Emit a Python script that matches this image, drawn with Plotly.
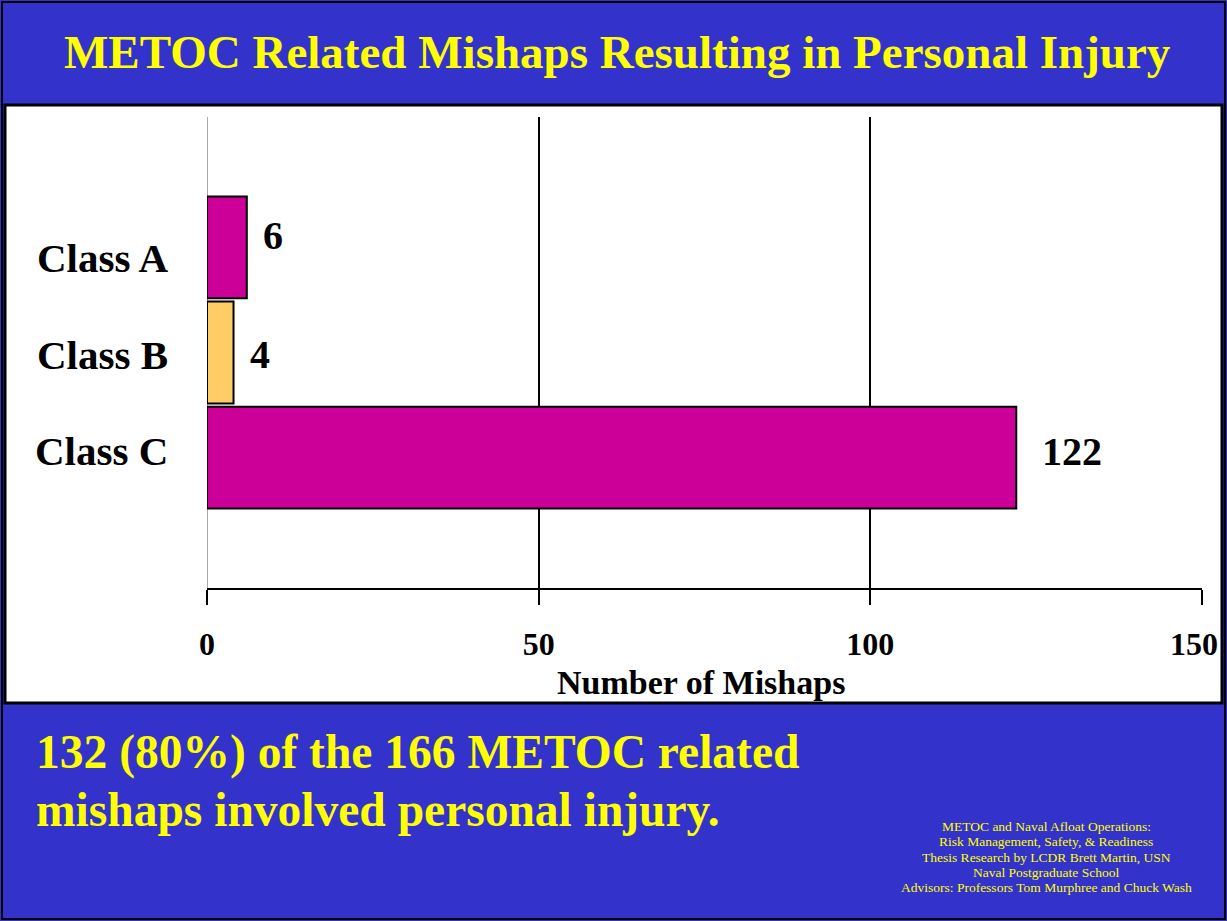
import plotly.graph_objects as go

# ---- data ----
categories = ["Class A", "Class B", "Class C"]
mishaps = [6, 4, 122]
bar_colors = ["#CC0099", "#FFCC66", "#CC0099"]
x_ticks = [0, 50, 100, 150]

title_text = "METOC Related Mishaps Resulting in Personal Injury"
summary_lines = ["132 (80%) of the 166 METOC related", "mishaps involved personal injury."]
credit_lines = [
    "METOC and Naval Afloat Operations:",
    "Risk Management, Safety, & Readiness",
    "Thesis Research by LCDR Brett Martin, USN",
    "Naval Postgraduate School",
    "Advisors: Professors Tom Murphree and Chuck Wash",
]

W, H = 1227, 921
PL, PR, PT, PB = 207, 1202, 117, 588  # plot area in pixels
BLUE = "#3333CC"
YELLOW = "#FFFF00"
SERIF = "Liberation Serif, Times New Roman, serif"
CAT_LABEL_SHIFT = [11, 2, -7]    # vertical nudges of category labels (px, down positive)
VAL_LABEL_SHIFT = [12, -2, 6]    # vertical nudges of value labels (px, up positive)


def px(x):
    return (x - PL) / (PR - PL)


def py(y):
    return (PB - y) / (PB - PT)


fig = go.Figure()
fig.add_trace(go.Bar(
    x=mishaps, y=categories, orientation="h",
    marker=dict(color=bar_colors, line=dict(color="black", width=2)),
    width=0.97, showlegend=False, hoverinfo="x+y",
))

# value labels beside bars, and category labels
for c, v, vs, cs in zip(categories, mishaps, VAL_LABEL_SHIFT, CAT_LABEL_SHIFT):
    fig.add_annotation(x=v, y=c, xref="x", yref="y", text=f"<b>{v}</b>",
                       showarrow=False, xanchor="left", xshift=14 if v < 50 else 24, yshift=vs,
                       font=dict(family=SERIF, size=40, color="black"))
    fig.add_annotation(x=px(170), y=c, xref="paper", yref="y", text=f"<b>{c}</b>",
                       showarrow=False, xanchor="right", yshift=-cs,
                       font=dict(family=SERIF, size=41, color="black"))

shapes = []
# outer slide border
shapes.append(dict(type="rect", xref="paper", yref="paper",
                   x0=px(2), x1=px(1225), y0=py(2), y1=py(919),
                   line=dict(color="black", width=2), layer="below"))
# white panel
shapes.append(dict(type="rect", xref="paper", yref="paper",
                   x0=px(5), x1=px(1222), y0=py(105), y1=py(703),
                   fillcolor="white", line=dict(color="black", width=3), layer="below"))
fig.update_layout(shapes=shapes)

annotations = []
annotations.append(dict(xref="paper", yref="paper", x=px(617), y=py(52),
                        text=f"<b>{title_text}</b>", showarrow=False,
                        xanchor="center", yanchor="middle",
                        font=dict(family=SERIF, size=47, color=YELLOW)))
annotations.append(dict(xref="paper", yref="paper", x=px(701), y=py(682),
                        text="<b>Number of Mishaps</b>", showarrow=False,
                        xanchor="center", yanchor="middle",
                        font=dict(family=SERIF, size=34, color="black")))
for i, line in enumerate(summary_lines):
    annotations.append(dict(xref="paper", yref="paper", x=px(34), y=py(752 + 58 * i),
                            text=f"<b>{line}</b>", showarrow=False,
                            xanchor="left", yanchor="middle",
                            font=dict(family=SERIF, size=47.5, color=YELLOW)))
for i, line in enumerate(credit_lines):
    annotations.append(dict(xref="paper", yref="paper", x=px(1046), y=py(826 + 15.5 * i),
                            text=line, showarrow=False,
                            xanchor="center", yanchor="middle",
                            font=dict(family=SERIF, size=13.5, color=YELLOW)))
for a in annotations:
    fig.add_annotation(**a)

tick_text = [f"<b>{t}</b>" for t in x_ticks]
tick_text[-1] = tick_text[-1] + "\u00a0\u00a0"  # keep the last label inside the panel

fig.update_layout(
    width=W, height=H,
    margin=dict(l=PL, r=W - PR, t=PT, b=H - PB, pad=0),
    paper_bgcolor=BLUE, plot_bgcolor="white",
    bargap=0.03,
    xaxis=dict(range=[0, 150], tickvals=x_ticks, ticktext=tick_text,
               showgrid=True, gridcolor="black", gridwidth=2,
               zeroline=True, zerolinecolor="#aaaaaa", zerolinewidth=1,
               showline=True, linecolor="black", linewidth=2,
               ticks="outside", ticklen=15, tickwidth=2, tickcolor="black",
               ticklabelstandoff=12, automargin=False, ticklabeloverflow="allow",
               tickfont=dict(family=SERIF, size=32, color="black"), fixedrange=True),
    yaxis=dict(categoryorder="array", categoryarray=categories, autorange=False,
               range=[3.24, -1.24], showgrid=False, zeroline=False, showline=False,
               ticks="", showticklabels=False, automargin=False, fixedrange=True),
)

fig.write_html("out.html", config={"displayModeBar": False},
               post_script="document.body.style.margin='0';")
